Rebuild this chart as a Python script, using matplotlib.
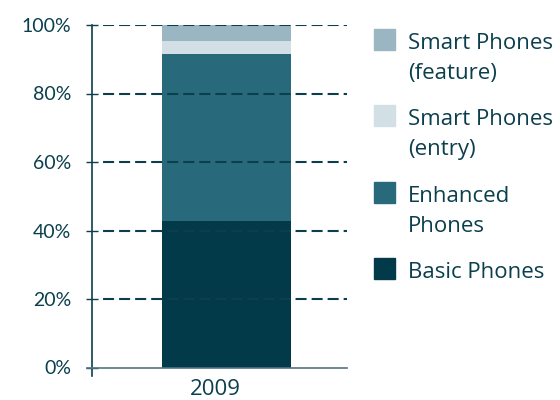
import matplotlib
matplotlib.use("Agg")
import matplotlib.pyplot as plt
from matplotlib.patches import Rectangle

plt.rcParams['font.family'] = ['Lato', 'DejaVu Sans']

categories = ["2009"]
series_names = ["Basic Phones", "Enhanced Phones", "Smart Phones (entry)", "Smart Phones (feature)"]
legend_lines = [["Basic Phones"], ["Enhanced", "Phones"], ["Smart Phones", "(entry)"], ["Smart Phones", "(feature)"]]
values = [42.9, 48.7, 3.8, 4.6]
colors = ["#033a4a", "#286a7c", "#d2dfe4", "#9ab6c2"]
yticks = [0, 20, 40, 60, 80, 100]
ytick_labels = ["0%", "20%", "40%", "60%", "80%", "100%"]

text_color = "#0b3f4e"

fig = plt.figure(figsize=(5.6, 4.0), dpi=100)
ax = fig.add_axes([92/560, 1 - 367.5/400, (347-92)/560, (367.5-25)/400])

bottom = 0
for v, c in zip(values, colors):
    ax.bar(0, v, width=0.5, bottom=bottom, color=c, zorder=2)
    bottom += v

ax.set_xlim(-0.521, 0.467)
ax.set_ylim(0, 100)
ax.set_yticks(yticks)
ax.set_yticklabels(ytick_labels, fontsize=14, color=text_color)
ax.set_xticks([])
ax.text(-0.043, -0.035, categories[0], transform=ax.get_xaxis_transform(), fontsize=16,
        color=text_color, ha='center', va='top', family=['Open Sans', 'DejaVu Sans'])
ax.tick_params(axis='y', direction='inout', length=8, width=1, color=text_color, pad=11)

lw = 1.5
for y in yticks[1:]:
    ax.axhline(y, xmin=6/255, xmax=1.0, color=text_color, lw=lw,
               ls=(5.28, (5.3, 2.4)), zorder=3)

for s in ['top', 'right']:
    ax.spines[s].set_visible(False)
ax.spines['left'].set_color(text_color)
ax.spines['left'].set_linewidth(1.2)
ax.spines['left'].set_bounds(-2.5, 100)
ax.spines['bottom'].set_color("#4f7684")
ax.spines['bottom'].set_linewidth(1.2)
ax.spines['bottom'].set_bounds(-0.54, 0.467)

# Legend (manual)
tops = [29, 105, 182, 258]
order = [3, 2, 1, 0]
for t, i in zip(tops, order):
    fig.patches.append(Rectangle((374/560, 1 - (t + 21)/400), 21/560, 21/400,
                                 transform=fig.transFigure, color=colors[i]))
    for k, line in enumerate(legend_lines[i]):
        fig.text(408/560, 1 - (t + 20 + 30*k)/400, line, fontsize=16, color=text_color,
                 va='baseline', ha='left', family=['Open Sans', 'DejaVu Sans'])

fig.savefig("out.png", dpi=100)
